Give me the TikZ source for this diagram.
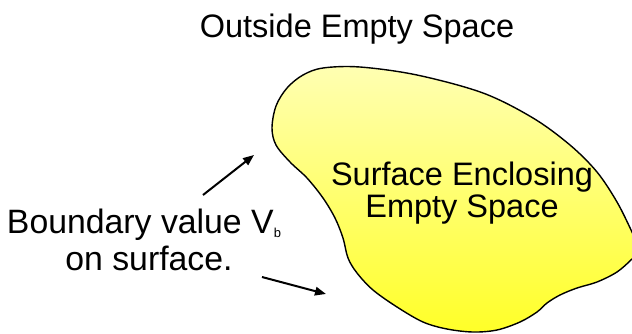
\documentclass[tikz,border=0pt]{standalone}
\usepackage{fontspec}
\setmainfont{Liberation Sans}
\usetikzlibrary{arrows.meta}
\definecolor{blobtop}{RGB}{255,255,178}
\definecolor{blobbot}{RGB}{255,255,40}
\tikzset{
  lbl/.style={anchor=base, inner sep=0pt, font=\fontsize{32.5}{32.5}\selectfont},
  biglbl/.style={anchor=base, inner sep=0pt, font=\fontsize{33.8}{33.8}\selectfont},
  pointer/.style={line width=2pt, -{Triangle[length=11pt,width=8.5pt]}},
  blob/.style={draw=black, line width=1.4pt, top color=blobtop, bottom color=blobbot}
}
\begin{document}
\begin{tikzpicture}[x=1pt,y=-1pt]
\useasboundingbox (0,0) rectangle (632,333);
\begin{scope}
\clip (0,0) rectangle (632,333);
\draw[blob] plot[smooth cycle, tension=0.55] coordinates {
 (323,68) (360,67) (417,75) (483,93) (533,118) (570,145) (597,172) (617,202)
 (632,232) (640,250)
 (632,259) (617,272) (597,282) (577,288) (560,295) (547,303) (537,312) (520,322)
 (497,330) (473,332) (447,329) (423,322) (397,307) (373,290) (357,273) (348,258)
 (343,238) (335,218) (323,198) (307,178) (290,162) (276,145) (272,128) (276,106)
 (287,88) (303,75)};
\end{scope}
\node[lbl] (outside) at (357,37) {Outside Empty Space};
\node[lbl] (surf1) at (462,185) {Surface Enclosing};
\node[lbl] (surf2) at (462,217) {Empty Space};
\node[biglbl] (bound1) at (144,233) {Boundary value V\raisebox{-4pt}{\fontsize{13}{13}\selectfont b}};
\node[biglbl] (bound2) at (149,270) {on surface.};
\coordinate (a1s) at (203,195);
\coordinate (a1e) at (254,155);
\coordinate (a2s) at (262,277);
\coordinate (a2e) at (326,294);
\draw[pointer] (a1s) -- (a1e);
\draw[pointer] (a2s) -- (a2e);
\end{tikzpicture}
\end{document}
